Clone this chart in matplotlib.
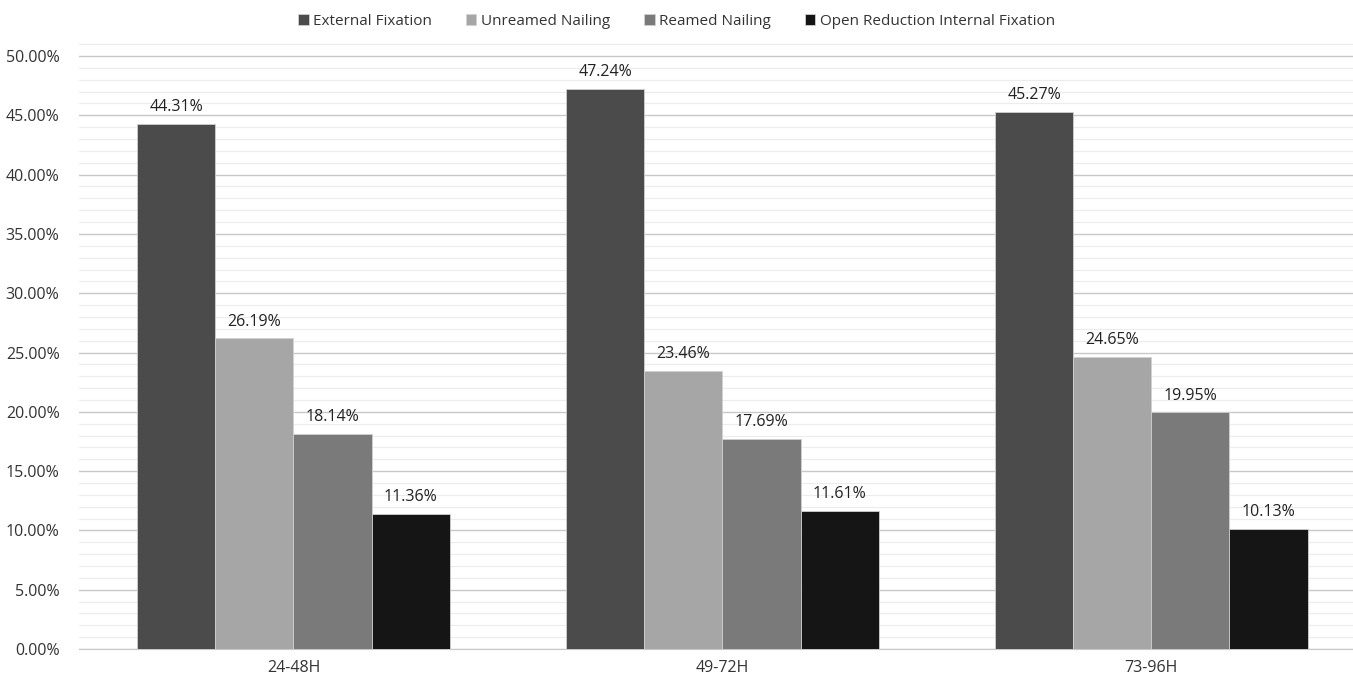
import matplotlib.pyplot as plt
import numpy as np
from matplotlib.ticker import MultipleLocator, FuncFormatter

categories = ['24-48H', '49-72H', '73-96H']
series = ['External Fixation', 'Unreamed Nailing', 'Reamed Nailing', 'Open Reduction Internal Fixation']
external_fixation = [44.31, 47.24, 45.27]
unreamed_nailing = [26.19, 23.46, 24.65]
reamed_nailing = [18.14, 17.69, 19.95]
orif = [11.36, 11.61, 10.13]
colors = ['#4b4b4b', '#a6a6a6', '#7a7a7a', '#151515']

plt.rcParams['font.family'] = ['Open Sans', 'DejaVu Sans']

fig = plt.figure(figsize=(13.53, 6.92), dpi=100)
ax = fig.add_axes([79/1353, 43/692, 1 - 79/1353, (649 - 43)/692])

x = np.arange(len(categories))
width = 0.182
values = [external_fixation, unreamed_nailing, reamed_nailing, orif]
for i, (name, vals, c) in enumerate(zip(series, values, colors)):
    pos = x + (i - 1.5) * width
    ax.bar(pos, vals, width=width, color=c, label=name, edgecolor='#d0d0d0',
           linewidth=0.6, zorder=3)
    for p, v in zip(pos, vals):
        ax.text(p, v + 0.75, f'{v:.2f}%', ha='center', va='bottom', fontsize=11.5, color='#222222')

ax.set_ylim(0, 51.1)
ax.set_xlim(-0.5, 2.47)
ax.yaxis.set_major_locator(MultipleLocator(5))
ax.yaxis.set_minor_locator(MultipleLocator(1))
ax.yaxis.set_major_formatter(FuncFormatter(lambda v, _: f'{v:.2f}%'))
ax.grid(axis='y', which='major', color='#c8c8c8', linewidth=1.0, zorder=0)
ax.grid(axis='y', which='minor', color='#ececec', linewidth=0.8, zorder=0)
ax.set_xticks(x)
ax.set_xticklabels(categories)
ax.tick_params(axis='both', which='both', length=0, labelsize=11.5, labelcolor='#333333')
ax.tick_params(axis='x', pad=8)
ax.tick_params(axis='y', pad=14)
for s in ['top', 'right', 'left']:
    ax.spines[s].set_visible(False)
ax.spines['bottom'].set_color('#c8c8c8')

fig.legend(loc='upper center', bbox_to_anchor=(0.5, 1.0), ncol=4, frameon=False,
           fontsize=11, handlelength=0.7, handleheight=0.7, handletextpad=0.3,
           columnspacing=2.2, labelcolor='#333333')

fig.savefig('out.png', dpi=100)
